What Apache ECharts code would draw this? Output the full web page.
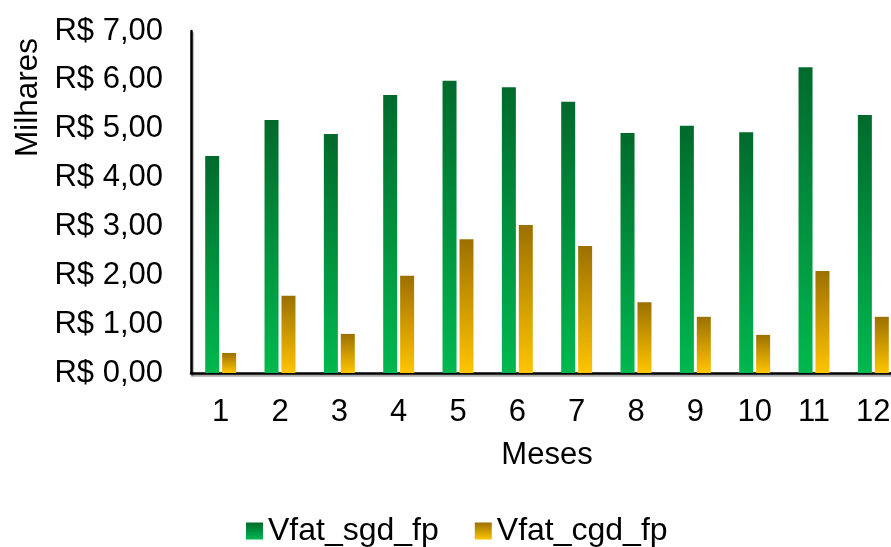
<!DOCTYPE html>
<html>
<head>
<meta charset="utf-8">
<script src="https://cdn.jsdelivr.net/npm/echarts@6/dist/echarts.min.js"></script>
<style>html,body{margin:0;padding:0;background:#fff;overflow:hidden;width:891px;height:547px;}#c{width:905px;height:547px;}</style>
</head>
<body>
<div id="c"></div>
<script>
const months = ['1','2','3','4','5','6','7','8','9','10','11','12'];
const vfatSgd = [4.44, 5.18, 4.89, 5.69, 5.98, 5.85, 5.55, 4.91, 5.06, 4.93, 6.26, 5.28];
const vfatCgd = [0.41, 1.58, 0.80, 1.99, 2.74, 3.03, 2.60, 1.45, 1.15, 0.78, 2.09, 1.15];
const seriesNames = ['Vfat_sgd_fp', 'Vfat_cgd_fp'];

const FONT = '"Liberation Sans", Arial, sans-serif';
const chart = echarts.init(document.getElementById('c'));
const grad = (top, bottom) => new echarts.graphic.LinearGradient(0, 0, 0, 1, [
  {offset: 0, color: top}, {offset: 1, color: bottom}
]);
const axisLine = {show: true, lineStyle: {color: '#000', width: 2.5, shadowColor: 'rgba(0,0,0,0.35)', shadowOffsetX: 1, shadowOffsetY: 2, shadowBlur: 1}};
chart.setOption({
  animation: false,
  backgroundColor: '#fff',
  grid: {left: 191, top: 31, height: 342, width: 712, containLabel: false},
  legend: {
    data: seriesNames,
    left: 241, top: 510,
    itemWidth: 17, itemHeight: 17, itemGap: 36,
    icon: 'rect',
    textStyle: {fontFamily: FONT, fontSize: 32, color: '#000', padding: [0,0,6,0]}
  },
  graphic: [{
    type: 'text', left: 12, top: 38, rotation: Math.PI / 2,
    style: {text: 'Milhares', font: '31.5px ' + FONT, fill: '#000'}
  }],
  xAxis: {
    type: 'category', data: months,
    name: 'Meses', nameLocation: 'middle', nameGap: 67,
    nameTextStyle: {fontFamily: FONT, fontSize: 31, color: '#000'},
    axisLine: axisLine, axisTick: {show: false},
    axisLabel: {fontFamily: FONT, fontSize: 31, color: '#000', margin: 24}
  },
  yAxis: {
    type: 'value', min: 0, max: 7, interval: 1,
    axisLine: axisLine, axisTick: {show: false}, splitLine: {show: false},
    axisLabel: {fontFamily: FONT, fontSize: 31, color: '#000', margin: 28,
      formatter: v => 'R$ ' + v.toFixed(2).replace('.', ',')}
  },
  series: [
    {name: seriesNames[0], type: 'bar', data: vfatSgd, barWidth: 14, barGap: '21%',
      itemStyle: {color: grad('#006a2c', '#00b84f')}},
    {name: seriesNames[1], type: 'bar', data: vfatCgd, barWidth: 14,
      itemStyle: {color: grad('#9c7000', '#ffc400')}}
  ]
});
</script>
</body>
</html>
